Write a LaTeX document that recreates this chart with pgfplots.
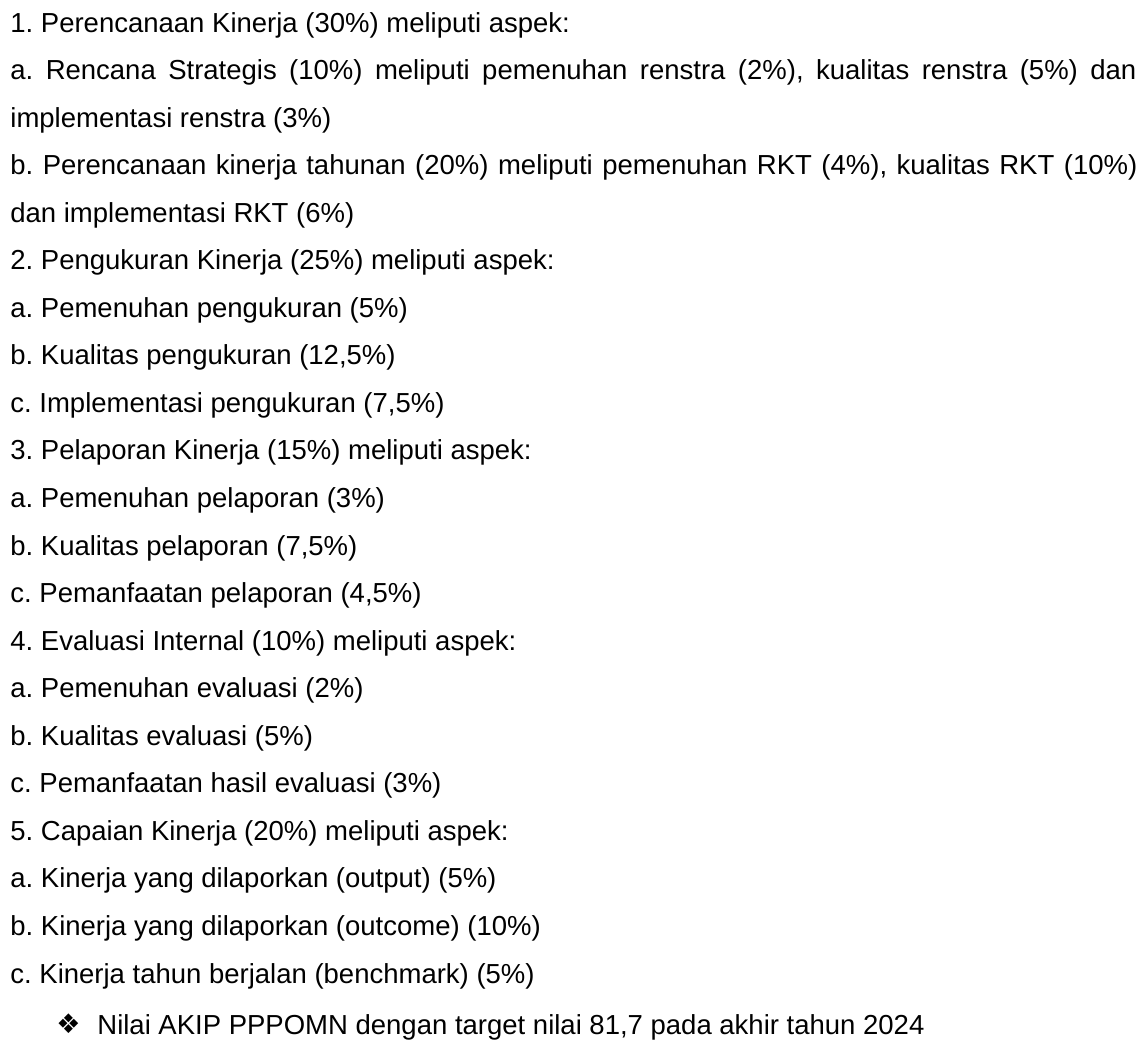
\documentclass[border=0pt]{standalone}
\usepackage{fontspec}
\setmainfont{Liberation Sans}
\newfontfamily\dejavu{DejaVu Sans}
\usepackage{pgfplots}
\pgfplotsset{compat=1.18}
\frenchspacing
\newcommand\fs{\fontsize{13.75}{16}\selectfont\frenchspacing}
\tikzset{txt/.style={anchor=base west, inner sep=0pt, font=\fs, text=black}}
\begin{document}
\begin{tikzpicture}
\begin{axis}[hide axis, scale only axis, width=571pt, height=520pt,
  xmin=0, xmax=1142, ymin=0, ymax=1040, y dir=reverse, clip=false]
\addplot[draw=none, forget plot] coordinates {(0,0) (1142,1040)};
\path[draw=none] (rel axis cs:0,0) rectangle (rel axis cs:1,1);
\node[txt] at (axis cs:10,32.0) {1. Perencanaan Kinerja (30\%) meliputi aspek:};
\node[txt] at (axis cs:10,79.55) {\makebox[563pt][s]{a. Rencana Strategis (10\%) meliputi pemenuhan renstra (2\%), kualitas renstra (5\%) dan}};
\node[txt] at (axis cs:10,127.1) {implementasi renstra (3\%)};
\node[txt] at (axis cs:10,174.65) {\makebox[563.5pt][s]{b. Perencanaan kinerja tahunan (20\%) meliputi pemenuhan RKT (4\%), kualitas RKT (10\%)}};
\node[txt] at (axis cs:10,222.2) {dan implementasi RKT (6\%)};
\node[txt] at (axis cs:10,269.75) {2. Pengukuran Kinerja (25\%) meliputi aspek:};
\node[txt] at (axis cs:10,317.3) {a. Pemenuhan pengukuran (5\%)};
\node[txt] at (axis cs:10,364.85) {b. Kualitas pengukuran (12,5\%)};
\node[txt] at (axis cs:10,412.4) {c. Implementasi pengukuran (7,5\%)};
\node[txt] at (axis cs:10,459.95) {3. Pelaporan Kinerja (15\%) meliputi aspek:};
\node[txt] at (axis cs:10,507.5) {a. Pemenuhan pelaporan (3\%)};
\node[txt] at (axis cs:10,555.05) {b. Kualitas pelaporan (7,5\%)};
\node[txt] at (axis cs:10,602.6) {c. Pemanfaatan pelaporan (4,5\%)};
\node[txt] at (axis cs:10,650.15) {4. Evaluasi Internal (10\%) meliputi aspek:};
\node[txt] at (axis cs:10,697.7) {a. Pemenuhan evaluasi (2\%)};
\node[txt] at (axis cs:10,745.25) {b. Kualitas evaluasi (5\%)};
\node[txt] at (axis cs:10,792.8) {c. Pemanfaatan hasil evaluasi (3\%)};
\node[txt] at (axis cs:10,840.35) {5. Capaian Kinerja (20\%) meliputi aspek:};
\node[txt] at (axis cs:10,887.9) {a. Kinerja yang dilaporkan (output) (5\%)};
\node[txt] at (axis cs:10,935.45) {b. Kinerja yang dilaporkan (outcome) (10\%)};
\node[txt] at (axis cs:10,983.0) {c. Kinerja tahun berjalan (benchmark) (5\%)};
\node[txt] at (axis cs:56,1033.0) {{\dejavu\fontsize{13.5}{15}\selectfont ❖}};
\node[txt] at (axis cs:97,1034.0) {Nilai AKIP PPPOMN dengan target nilai 81,7 pada akhir tahun 2024};
\end{axis}
\end{tikzpicture}
\end{document}
